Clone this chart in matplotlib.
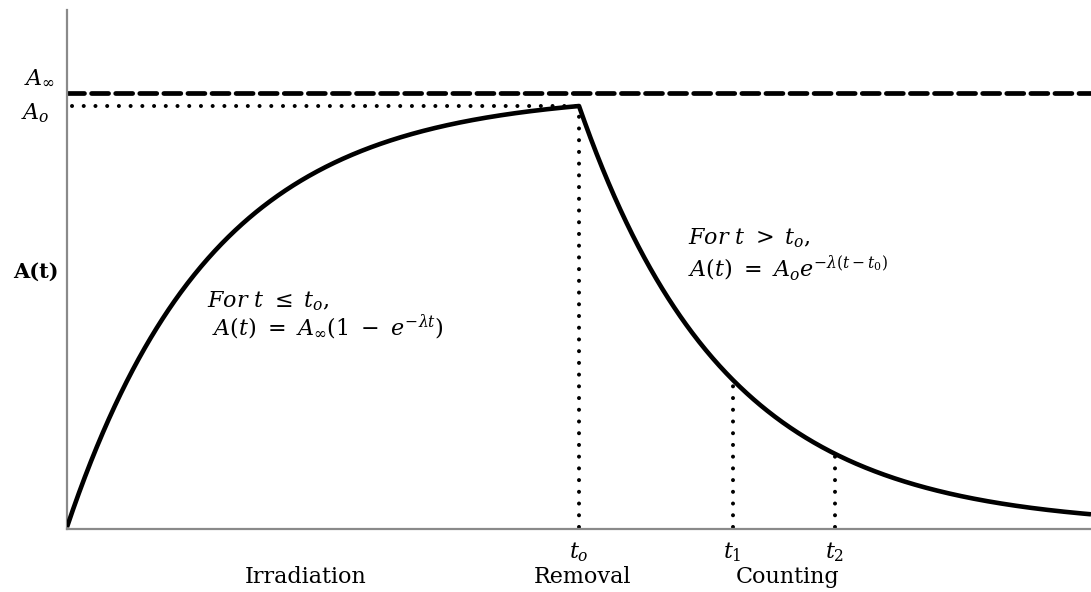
import numpy as np
import matplotlib
matplotlib.use("Agg")
import matplotlib.pyplot as plt
from matplotlib.transforms import blended_transform_factory

plt.rcParams["mathtext.fontset"] = "dejavuserif"

# Activation model parameters (arbitrary time units)
A_inf = 1.0          # saturation activity
lam = 0.70           # decay constant
t0 = 5.0             # end of irradiation / removal
t1 = 6.5             # counting start
t2 = 7.5             # counting end
t_end = 10.0

phase_labels = ["Irradiation", "Removal", "Counting"]
phase_pos = [2.33, 5.03, 7.04]
time_marks = [t0, t1, t2]
time_labels = [r"$t_o$", r"$t_1$", r"$t_2$"]


def activity(t):
    t = np.asarray(t, dtype=float)
    A0 = A_inf * (1 - np.exp(-lam * t0))
    return np.where(t <= t0,
                    A_inf * (1 - np.exp(-lam * t)),
                    A0 * np.exp(-lam * (t - t0)))


A0 = float(activity(t0))

fig = plt.figure(figsize=(10.91, 5.92), dpi=100)
ax = fig.add_axes([67 / 1091, 63 / 592, 1 - 67 / 1091, (592 - 63 - 10) / 592])

t = np.linspace(0, t_end, 1200)
t = np.union1d(t, [t0])
ax.plot(t, activity(t), color="black", lw=3.3, solid_capstyle="butt", zorder=3)

dot = dict(color="black", lw=2.9, dash_capstyle="round",
           linestyle=(0, (0.01, 2.9)))
# saturation level
ax.plot([0, t_end], [A_inf, A_inf], color="black", lw=3.4,
        linestyle=(0, (3.6, 1.5)), dash_capstyle="round")
# activity at removal
ax.plot([0.05, t0], [A0, A0], **dot)
# vertical markers
for tm in time_marks:
    ax.plot([tm, tm], [0.0, float(activity(tm))], **dot)

ax.set_xlim(0, t_end)
ax.set_ylim(-0.0046, 1.191)
ax.set_xticks([])
ax.set_yticks([])
for side in ("top", "right"):
    ax.spines[side].set_visible(False)
for side in ("left", "bottom"):
    ax.spines[side].set_color("#8a8a8a")
    ax.spines[side].set_linewidth(1.6)

ytr = blended_transform_factory(ax.transAxes, ax.transData)
xtr = blended_transform_factory(ax.transData, ax.transAxes)

ax.text(-0.012, A_inf + 0.023, r"$A_\infty$", transform=ytr, ha="right",
        va="baseline", fontsize=16)
ax.text(-0.017, A0 - 0.03, r"$A_o$", transform=ytr, ha="right",
        va="baseline", fontsize=16)
ax.text(-0.03, 0.588, "A(t)", transform=ytr, ha="center", va="center",
        fontsize=15, fontweight="bold", family="DejaVu Serif")

for tm, lab in zip(time_marks, time_labels):
    ax.text(tm, -0.056, lab, transform=xtr, ha="center", va="baseline",
            fontsize=16)
for x, lab in zip(phase_pos, phase_labels):
    ax.text(x, -0.104, lab, transform=xtr, ha="center", va="baseline",
            fontsize=16, family="DejaVu Serif")

ax.text(1.367, 0.507, r"$For\ t\ \leq\ t_o,$", ha="left", va="baseline",
        fontsize=16)
ax.text(1.416, 0.442, r"$A(t)\ =\ A_\infty(1\ -\ e^{-\lambda t})$",
        ha="left", va="baseline", fontsize=16)
ax.text(6.065, 0.650, r"$For\ t\ >\ t_o,$", ha="left", va="baseline",
        fontsize=16)
ax.text(6.065, 0.578, r"$A(t)\ =\ A_o e^{-\lambda(t - t_0)}$", ha="left",
        va="baseline", fontsize=16)

fig.savefig("out.png", dpi=100)
